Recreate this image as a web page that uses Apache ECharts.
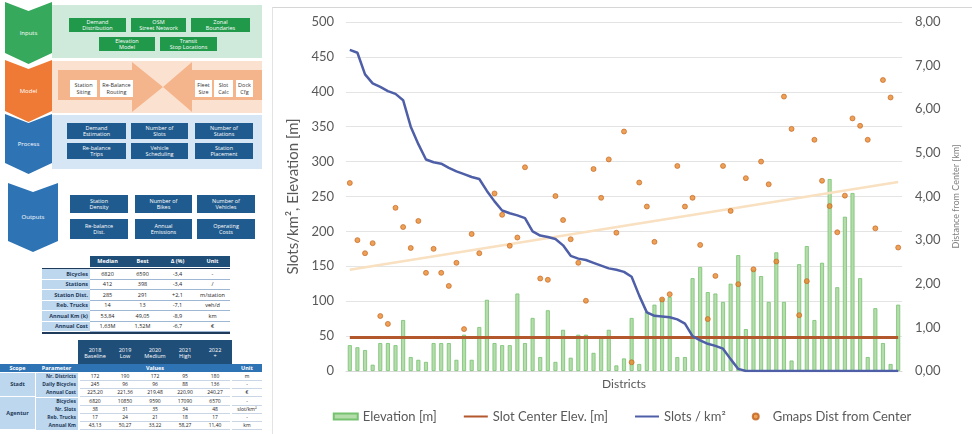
<!DOCTYPE html>
<html><head><meta charset="utf-8">
<script src="https://cdn.jsdelivr.net/npm/echarts@6/dist/echarts.min.js"></script>
<style>
html,body{margin:0;padding:0;background:#fff;width:972px;height:434px;overflow:hidden;font-family:'Open Sans',sans-serif;}
#left{position:absolute;left:0;top:0;width:272px;height:434px;}
.b{position:absolute;display:flex;align-items:center;justify-content:center;text-align:center;line-height:1.1;font-size:5.5px;box-sizing:border-box;overflow:hidden;}
.chev{clip-path:polygon(0 0,50% 9px,100% 0,100% calc(100% - 11px),50% 100%,0 calc(100% - 11px));color:#fff;font-size:6px;}
#chart{position:absolute;left:272px;top:0;width:700px;height:434px;}
#frame{position:absolute;left:272px;top:7px;width:700px;height:427px;border-top:1px solid #d6d6d6;border-left:1px solid #e3e3e3;box-sizing:border-box;}
</style></head><body>
<div id="left"></div>
<div id="frame"></div>
<div id="chart"></div>
<script>
// ---------------- chart data ----------------
const districtCount = 73;
const categories = Array.from({length: districtCount}, (_, i) => 'D' + (i + 1));
const elevation = [37,34,30,9,40,40,37,73,20,16,
  13,40,40,40,16,52,16,63,102,40,
  37,37,111,40,76,20,87,13,59,19,
  52,52,26,49,59,8,18,76,10,85,
  95,104,106,20,20,133,149,113,111,99,
  125,166,60,145,136,99,170,99,15,153,
  179,73,155,275,120,221,255,133,20,90,
  40,10,95];
const slotCenterElev = 48;
const slotsPerKm2 = [460,456,425,412,407,401,397,388,350,325,
  303,299,297,291,286,282,278,275,258,243,
  230,226,223,219,200,194,192,189,180,165,
  161,159,155,151,147,145,142,135,108,84,
  79,78,77,74,68,50,44,39,36,32,
  17,3,0,0,0,0,0,0,0,0,
  0,0,0,0,0,0,0,0,0,0,
  0,0,0];
const gmapsDist = [4.31,3.00,2.70,2.93,1.26,1.08,3.74,3.30,2.82,3.44,
  2.25,2.80,2.25,1.95,2.48,0.96,3.14,2.70,null,4.07,
  3.58,2.87,3.06,4.67,null,2.12,2.09,4.01,3.46,3.02,
  2.48,1.61,4.63,3.97,4.85,3.17,5.49,0.20,4.32,3.77,
  2.96,1.64,1.76,4.70,3.77,3.97,2.89,1.19,2.18,4.70,
  3.67,1.99,4.42,2.33,4.80,4.28,2.51,6.29,5.55,1.28,
  2.06,5.30,4.36,3.78,3.18,4.02,5.79,5.62,5.30,3.27,
  6.67,6.27,2.83];
const trendEnds = [2.32, 4.33];
const leftTicks = {min: 0, max: 500, interval: 50};
const rightTicks = {min: 0, max: 8, interval: 1};

const slotCenterSeries = categories.map(() => slotCenterElev);
const trendSeries = categories.map((_, i) => i === 0 ? trendEnds[0] : (i === categories.length - 1 ? trendEnds[1] : null));

// ---------------- left diagram ----------------
const L = document.getElementById('left');
function box(x, y, w, h, bg, col, txt, css) {
  const d = document.createElement('div');
  d.className = 'b';
  d.style.cssText = `left:${x}px;top:${y}px;width:${w}px;height:${h}px;background:${bg};color:${col};` + (css || '');
  d.innerHTML = txt || '';
  L.appendChild(d);
  return d;
}
function chev(x, y, w, h, bg, txt) {
  const d = box(x, y, w, h, bg, '#fff', txt);
  d.classList.add('chev');
  return d;
}
// bands
box(52, 5, 210, 53, '#cfe9da');
box(52, 61, 210, 52, '#fbe1d0');
box(52, 115, 210, 54, '#d6e6f4');
chev(5, 2, 47, 62, '#36a95c', 'Inputs');
chev(5, 60, 47, 62, '#ee7a35', 'Model');
chev(5, 114, 47, 60, '#2e74b5', 'Process');
chev(8, 183, 50, 69, '#2e74b5', 'Outputs');
const G = '#21994a';
box(69, 18, 57, 14, G, '#fff', 'Demand<br>Distribution');
box(131, 18, 55, 14, G, '#fff', 'OSM<br>Street Network');
box(191, 18, 59, 14, G, '#fff', 'Zonal<br>Boundaries');
box(99, 37, 56, 14, G, '#fff', 'Elevation<br>Model');
box(160, 37, 57, 14, G, '#fff', 'Transit<br>Stop Locations');
// arrows
box(58, 62, 105, 50, '#f5b58c', '', '', 'clip-path:polygon(0 8px,74px 8px,74px 0,105px 25px,74px 50px,74px 38px,0 38px);');
box(163, 62, 99, 50, '#f5b58c', '', '', 'clip-path:polygon(0 25px,29px 0,29px 8px,99px 8px,99px 38px,29px 38px,29px 50px);');
const W = '#ffffff';
box(70, 80, 27, 17, W, '#333', 'Station<br>Siting');
box(100, 80, 33, 17, W, '#333', 'Re-Balance<br>Routing');
box(195, 80, 17, 17, W, '#333', 'Fleet<br>Size');
box(214, 80, 19, 17, W, '#333', 'Slot<br>Calc');
box(236, 80, 17, 17, W, '#333', 'Dock<br>Cfg');
const B = '#1f5b8e';
box(67, 123, 59, 16, B, '#fff', 'Demand<br>Estimation');
box(131, 123, 57, 16, B, '#fff', 'Number of<br>Slots');
box(195, 123, 58, 16, B, '#fff', 'Number of<br>Stations');
box(67, 143, 59, 16, B, '#fff', 'Re-balance<br>Trips');
box(131, 143, 57, 16, B, '#fff', 'Vehicle<br>Scheduling');
box(195, 143, 58, 16, B, '#fff', 'Station<br>Placement');
box(70, 195, 58, 18, B, '#fff', 'Station<br>Density');
box(135, 195, 57, 18, B, '#fff', 'Number of<br>Bikes');
box(197, 195, 58, 18, B, '#fff', 'Number of<br>Vehicles');
box(70, 219, 58, 20, B, '#fff', 'Re-balance<br>Dist.');
box(135, 219, 57, 20, B, '#fff', 'Annual<br>Emissions');
box(197, 219, 58, 20, B, '#fff', 'Operating<br>Costs');

// table 1
const NAVY = '#1f4e79', LB = '#bdd7ee';
box(90, 256, 140, 11, NAVY);
['Median', 'Best', 'Δ (%)', 'Unit'].forEach((t, k) => box(90 + 35 * k, 256, 35, 11, 'transparent', '#fff', t, 'font-weight:bold;'));
box(42, 268, 188, 1, '#1f3a5a');
const t1 = [['Bicycles','6820','6590','-3,4','-'],['Stations','412','398','-3,4','/'],['Station Dist.','285','291','+2,1','m/station'],['Reb. Trucks','14','13','-7,1','veh/d'],['Annual Km (k)','53,84','49,05','-8,9','km'],['Annual Cost','1,63M','1,52M','-6,7','€']];
t1.forEach((r, j) => {
  const y = 269 + j * 10.5;
  box(42, y, 48, 10.5, LB, '#1f3a5a', r[0], 'font-weight:bold;justify-content:flex-end;padding-right:2px;border-bottom:0.5px solid #fff;');
  r.slice(1).forEach((t, k) => box(90 + 35 * k, y, 35, 10.5, 'transparent', '#222', t, 'border-bottom:0.5px solid #9db7d5;'));
});
box(42, 332, 188, 1.5, '#1f3a5a');

// table 2
box(78, 340, 154, 25, NAVY);
['2018<br>Baseline', '2019<br>Low', '2020<br>Medium', '2021<br>High', '2022<br>+'].forEach((t, k) => box(80 + 30 * k, 343, 30, 20, 'transparent', '#fff', t));
box(0, 364, 262, 8, '#2e74b5');
box(0, 364, 35, 8, 'transparent', '#fff', 'Scope', 'font-weight:bold;');
box(35, 364, 43, 8, 'transparent', '#fff', 'Parameter', 'font-weight:bold;');
box(80, 364, 150, 8, 'transparent', '#fff', 'Values', 'font-weight:bold;');
box(232, 364, 30, 8, 'transparent', '#fff', 'Unit', 'font-weight:bold;');
const t2 = [['Nr. Districts','172','190','172','95','180','m'],['Daily Bicycles','245','96','96','88','136','-'],['Annual Cost','225,20','221,36','219,48','220,90','240,27','€'],
  ['Bicycles','6820','10850','9590','17090','6570','-'],['Nr. Slots','38','31','35','34','48','slot/km²'],['Reb. Trucks','17','24','21','18','17','-'],['Annual Km','43,13','50,27','33,22','58,27','11,40','km']];
box(0, 373, 35, 23, LB, '#1f3a5a', 'Stadt', 'font-weight:bold;');
box(0, 397, 35, 32, LB, '#1f3a5a', 'Agentur', 'font-weight:bold;');
t2.forEach((r, j) => {
  const y = 373 + j * 8 + (j >= 3 ? 1 : 0);
  box(36, y, 42, 8, LB, '#1f3a5a', r[0], 'font-weight:bold;justify-content:flex-end;padding-right:2px;font-size:5px;');
  r.slice(1, 6).forEach((t, k) => box(80 + 30 * k, y, 30, 8, 'transparent', '#222', t, 'font-size:5px;border-bottom:0.5px solid #c9d6e6;'));
  box(232, y, 30, 8, 'transparent', '#222', r[6], 'font-size:5px;border-bottom:0.5px solid #c9d6e6;');
});

// ---------------- chart ----------------
const chart = echarts.init(document.getElementById('chart'), null, {renderer: 'canvas'});
const FONT = 'Lato';
const GRAY = '#595959';
chart.setOption({
  animation: false,
  textStyle: {fontFamily: FONT},
  grid: {left: 74, right: 70, top: 22, bottom: 63, containLabel: false},
  legend: {
    bottom: 6, left: 'center', itemGap: 26, itemWidth: 24, itemHeight: 6,
    textStyle: {fontSize: 13, color: GRAY, fontFamily: FONT},
    data: [
      {name: 'Elevation [m]', icon: 'rect'},
      {name: 'Slot Center Elev. [m]', itemStyle: {opacity: 0}},
      {name: 'Slots / km²', itemStyle: {opacity: 0}},
      {name: 'Gmaps Dist from Center', icon: 'circle'}
    ]
  },
  xAxis: {
    type: 'category', data: categories, boundaryGap: true,
    axisLabel: {show: false}, axisTick: {show: false},
    axisLine: {lineStyle: {color: '#d9d9d9'}},
    name: 'Districts', nameLocation: 'middle', nameGap: 7,
    nameTextStyle: {fontSize: 12, color: GRAY, fontFamily: FONT}
  },
  yAxis: [{
    type: 'value', min: leftTicks.min, max: leftTicks.max, interval: leftTicks.interval,
    axisLabel: {fontSize: 13, color: GRAY, margin: 12, fontFamily: FONT},
    axisLine: {show: false}, axisTick: {show: false},
    splitLine: {lineStyle: {color: '#e4e4e4', width: 1}},
    name: 'Slots/km², Elevation [m]', nameLocation: 'middle', nameGap: 40, nameRotate: 90,
    nameTextStyle: {fontSize: 15, color: GRAY, fontFamily: FONT}
  }, {
    type: 'value', position: 'right', min: rightTicks.min, max: rightTicks.max, interval: rightTicks.interval,
    axisLabel: {fontSize: 13, color: GRAY, margin: 13, fontFamily: FONT, formatter: v => v.toFixed(2).replace('.', ',')},
    axisLine: {show: false}, axisTick: {show: false}, splitLine: {show: false},
    name: 'Distance from Center [km]', nameLocation: 'middle', nameGap: 50, nameRotate: 90,
    nameTextStyle: {fontSize: 9, color: '#7f7f7f', fontFamily: FONT}
  }],
  series: [{
    name: 'Elevation [m]', type: 'bar', data: elevation, barWidth: 4, z: 1,
    itemStyle: {color: '#b5ddab', borderColor: '#76c270', borderWidth: 0.8}
  }, {
    name: 'Slot Center Elev. [m]', type: 'line', data: slotCenterSeries, symbol: 'none', z: 3,
    lineStyle: {color: '#b3572d', width: 3}, itemStyle: {color: '#b3572d'}
  }, {
    name: 'Gmaps Trend', type: 'line', yAxisIndex: 1, data: trendSeries, connectNulls: true, symbol: 'none', z: 2, silent: true,
    lineStyle: {color: '#f8e0c0', width: 2.5}
  }, {
    name: 'Slots / km²', type: 'line', data: slotsPerKm2, symbol: 'none', z: 4,
    lineStyle: {color: '#4e5fa8', width: 2.5}, itemStyle: {color: '#4e5fa8'}
  }, {
    name: 'Gmaps Dist from Center', type: 'scatter', yAxisIndex: 1, data: gmapsDist, symbolSize: 5, z: 5,
    itemStyle: {color: '#e8882c', borderColor: '#c0621d', borderWidth: 0.8}
  }]
});
</script>
</body></html>
